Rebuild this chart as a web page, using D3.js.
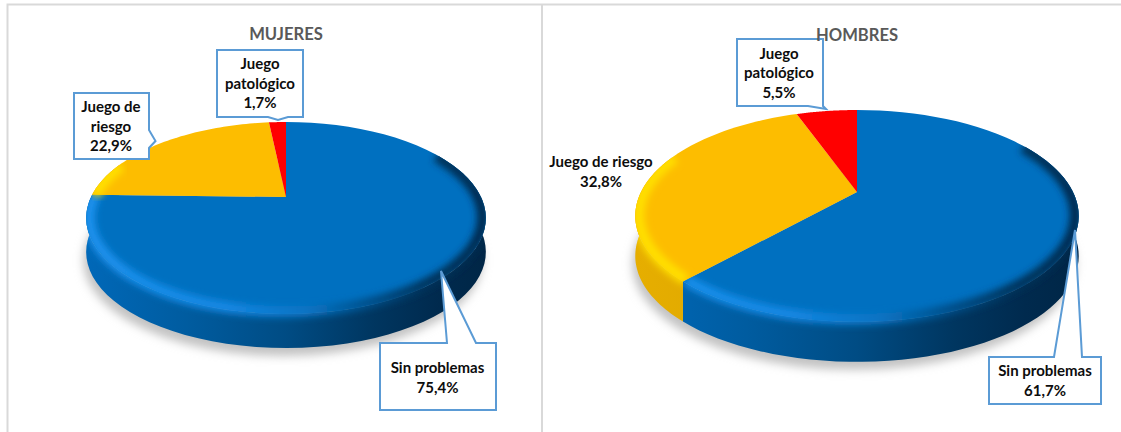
<!DOCTYPE html>
<html><head><meta charset="utf-8">
<script src="https://cdn.jsdelivr.net/npm/d3@7"></script>
<style>html,body{margin:0;padding:0;background:#fff}svg{display:block}text{font-family:Lato,"Open Sans",sans-serif;font-weight:700}</style>
</head><body><svg id="c" width="1121" height="432"></svg>
<script>
// data
const categories = ["Sin problemas", "Juego de riesgo", "Juego patológico"];
const mujeres = [75.4, 22.9, 1.7];
const hombres = [61.7, 32.8, 5.5];
const titles = ["MUJERES", "HOMBRES"];
const colours = ["#0070C0", "#FDBD00", "#FF0000"];
const sideStops = [
  [["0","#0068b8"],["0.25","#005ca0"],["0.5","#004c84"],["0.72","#003660"],["0.88","#002a4e"],["1","#002646"]],
  [["0","#e6ae00"],["1","#c99600"]],
  [["0","#c00000"],["1","#900000"]]];
const bevelStops = [
  [["0","#1c92ee"],["0.35","#1488e4"],["0.55","#0a74c4"],["0.7","#00508c"],["0.85","#00345c"],["1","#002a4e"]],
  [["0","#ffe000"],["1","#ffd400"]],
  [["0","#ff3030"],["1","#e00000"]]];

// layout
const pies = [
  {values:mujeres,title:titles[0],cx:286,cy:197,R:195,k:0.219,A:91.4,depth:34,titleY:40},
  {values:hombres,title:titles[1],cx:857,cy:192,R:216,k:0.226,A:100.5,depth:40,titleY:41}];
const callouts = [
 {shape:[[217,50],[303,50],[303,117],[288,117],[278,120],[268,117],[217,117]],x:260,y:[69,89,108],lines:["Juego","patológico","1,7%"]},
 {shape:[[74,93],[149,93],[149,130],[155.5,141],[149,148],[149,159],[74,159]],x:111,y:[112,132,151],lines:["Juego de","riesgo","22,9%"]},
 {shape:[[380,343],[447,343],[441,271],[476,343],[496,343],[496,410],[380,410]],x:437.5,y:[373,393],lines:["Sin problemas","75,4%"]},
 {shape:[[737,39],[823,39],[823,106],[826,109],[808,106],[737,106]],x:779,y:[59,78,98],lines:["Juego","patológico","5,5%"]},
 {shape:null,x:601,y:[167,187],lines:["Juego de riesgo","32,8%"]},
 {shape:[[989,357],[1054,357],[1075,230],[1082,357],[1101,357],[1101,404],[989,404]],x:1045,y:[376,396],lines:["Sin problemas","61,7%"]}];

const svg = d3.select("#c");
const defs = svg.append("defs");
const addBlur=(id,s)=>defs.append("filter").attr("id",id).attr("x","-20%").attr("y","-20%").attr("width","140%").attr("height","140%")
  .append("feGaussianBlur").attr("stdDeviation",s);
addBlur("blurS",5); addBlur("blurB",3.6);

// panel frames
svg.append("path").attr("d","M7.5,432V4.5H1121M542,4.5V432").attr("fill","none").attr("stroke","#d9d9d9").attr("stroke-width",2);

const pieGen = d3.pie().sort(null).value(d=>d);
const line = d3.line();

pies.forEach((p,pi)=>{
  const proj=(a,dy=0,r=1)=>{
    const u=r*Math.sin(a), v=-r*Math.cos(a), w=1-p.k*v;
    return [p.cx+p.R*u/w, p.cy+p.A*v/w+dy];
  };
  const samples=(a0,a1,dy=0,r=1)=>d3.range(0,61).map(i=>proj(a0+(a1-a0)*i/60,dy,r));
  const arcs=pieGen(p.values);
  const hw=p.R/Math.sqrt(1-p.k*p.k);
  const grad=(id,stops)=>{
    const g=defs.append("linearGradient").attr("id",id).attr("gradientUnits","userSpaceOnUse")
      .attr("x1",p.cx-hw).attr("x2",p.cx+hw).attr("y1",0).attr("y2",0);
    stops.forEach(s=>g.append("stop").attr("offset",s[0]).attr("stop-color",s[1]));
  };
  const g=svg.append("g");
  // soft shadow
  g.append("path").attr("d",line(samples(0,2*Math.PI,p.depth+8))+"Z").attr("transform","translate(-3,0)").attr("fill","#c2c2c2").attr("filter","url(#blurS)");

  const lo=Math.PI*60/180, hi=Math.PI*292/180;
  arcs.forEach((d,i)=>{
    grad(`side${pi}${i}`,sideStops[i]); grad(`bev${pi}${i}`,bevelStops[i]);
    const a0=Math.max(d.startAngle,lo), a1=Math.min(d.endAngle,hi);
    if(a1<=a0) return;
    const top=samples(a0,a1), bot=samples(a0,a1,p.depth).reverse();
    g.append("path").attr("d",line(top.concat(bot))+"Z").attr("fill",`url(#side${pi}${i})`);
  });
  arcs.forEach((d,i)=>{
    g.append("path").attr("d",line([[p.cx,p.cy]].concat(samples(d.startAngle,d.endAngle)))+"Z")
      .attr("fill",colours[i]);
  });
  // bevel just inside the front rim, confined to each slice and its wall
  arcs.forEach((d,i)=>{
    const a0=Math.max(d.startAngle,lo), a1=Math.min(d.endAngle,hi);
    if(a1<=a0) return;
    const clip=defs.append("clipPath").attr("id",`clip${pi}${i}`);
    clip.append("path").attr("d",line([[p.cx,p.cy]].concat(samples(d.startAngle,d.endAngle)))+"Z");
    clip.append("path").attr("d",line(samples(a0,a1).concat(samples(a0,a1,p.depth).reverse()))+"Z");
    g.append("g").attr("clip-path",`url(#clip${pi}${i})`).append("path")
      .attr("d",line(samples(a0,a1,0,0.985))).attr("fill","none")
      .attr("stroke",`url(#bev${pi}${i})`).attr("stroke-width",11)
      .attr("filter","url(#blurB)");
  });
});

// callouts
callouts.forEach(c=>{
  if(c.shape) svg.append("path").attr("d",line(c.shape)+"Z").attr("fill","#fff")
    .attr("stroke","#5b9bd5").attr("stroke-width",2);
  c.lines.forEach((t,i)=>svg.append("text").attr("x",c.x).attr("y",c.y[i])
    .attr("text-anchor","middle").attr("font-size",15).attr("fill","#0d0d0d").text(t));
});
// titles
pies.forEach(p=>svg.append("text").attr("x",p.cx).attr("y",p.titleY).attr("text-anchor","middle")
  .attr("font-size",16.6).attr("fill","#595959").text(p.title));
</script></body></html>
